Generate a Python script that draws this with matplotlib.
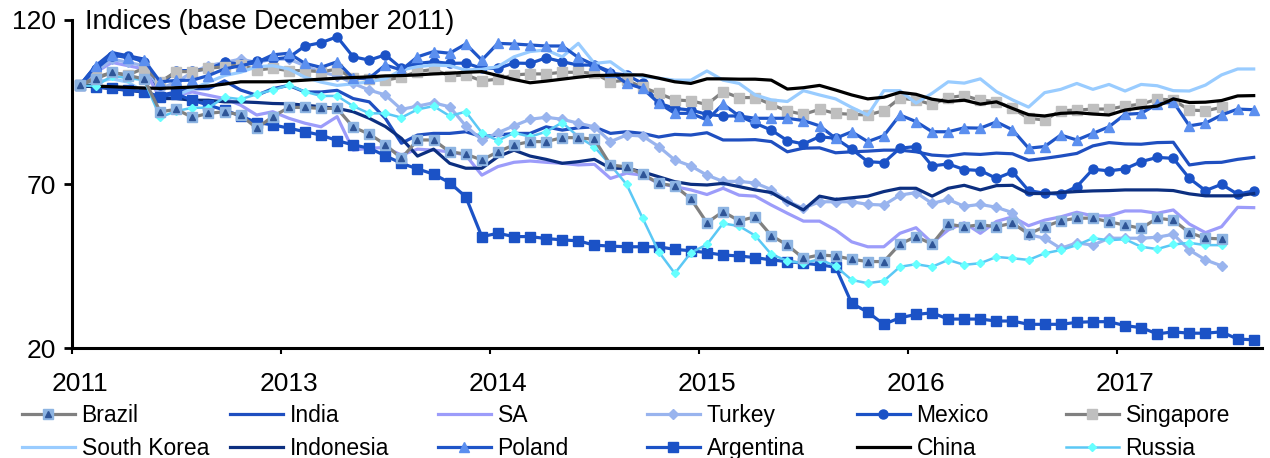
import numpy as np
import matplotlib.pyplot as plt

plt.rcParams['font.family'] = ['Liberation Sans', 'DejaVu Sans']

# monthly points, base Dec 2011 = 100
tick_labels = ['2011', '2013', '2014', '2015', '2016', '2017']

brazil = [100, 102, 104, 103, 102, 92.0, 92.7, 90.3, 91.5, 92.0, 91.0, 87.0, 90.5, 93.3, 93.3, 93.0,
          93.0, 87.3, 85.2, 82.0, 77.8, 83.4, 83.4, 79.8, 79.1, 77.3, 79.8, 81.9, 82.9, 82.9, 84.1, 84.1,
          83.6, 75.8, 75.2, 73.0, 70.2, 69.4, 65.5, 58.2, 61.6, 58.8, 60.0, 54.3, 51.4, 47.4, 48.4, 48.1,
          47.1, 46.4, 46.4, 51.7, 54.0, 51.7, 57.8, 57.0, 57.6, 57.0, 58.1, 54.8, 57.0, 58.8, 59.6, 59.6,
          58.5, 57.5, 56.5, 59.6, 59.0, 55.2, 53.5, 53.3]
india = [100, 106, 110, 109, 108, 97, 98, 99, 99, 101.4, 98.6, 97, 99, 100, 98, 98,
         98.5, 96, 95, 90, 82.4, 84.9, 85.4, 85.4, 85.9, 84.4, 84.9, 85.4, 85.4, 87.4, 86.4, 87.1,
         87.4, 85.4, 85.9, 85.4, 84.3, 85.1, 84.9, 85.6, 83.4, 83.4, 83.5, 82.9, 79.8, 80.9, 81.0, 79.5,
         79.8, 80.0, 80.3, 80.3, 79.8, 78.8, 78.5, 79.2, 79.0, 79.4, 79.2, 77.2, 77.8, 78.5, 79.3, 81.6,
         82.6, 82.2, 82.1, 82.6, 82.7, 75.8, 76.5, 76.6, 77.5, 78.1]
sa = [100, 104, 107, 106, 105, 96, 97, 98, 97, 96, 94.0, 91.0, 92.0, 90.0, 88.5, 87.4,
      90.5, 80.3, 80.9, 81.1, 78.8, 80.6, 80.3, 79.8, 78.8, 72.7, 75.3, 76.6, 77.0, 76.6, 76.3, 75.8,
      76.0, 71.7, 73.3, 72.7, 70.2, 69.2, 68.2, 66.8, 68.7, 66.6, 66.3, 63.6, 61.1, 58.7, 58.7, 56.0,
      52.4, 50.9, 50.9, 55.0, 56.7, 52.1, 56.0, 58.2, 55.0, 58.6, 60.0, 57.3, 59.0, 60.0, 61.4, 60.3,
      60.3, 61.8, 61.8, 61.1, 62.1, 57.8, 55.2, 57.0, 62.9, 62.8]
turkey = [100, 104, 108, 107, 106, 99, 101, 104, 106, 107, 108, 107, 108, 108, 106, 104,
          103, 100.6, 98.6, 97.1, 92.7, 93.7, 94.7, 93.5, 87.7, 83.4, 85.6, 87.7, 89.7, 90.3, 89.7, 88.5,
          87.4, 82.9, 84.9, 84.6, 81.4, 77.3, 75.5, 72.7, 70.8, 70.8, 70.3, 68.3, 64.8, 62.6, 64.6, 64.6,
          64.6, 63.8, 63.6, 66.6, 67.4, 64.1, 65.3, 63.2, 63.8, 62.9, 61.3, 54.6, 53.5, 50.4, 52.1, 51.4,
          53.5, 53.5, 53.5, 53.8, 54.7, 49.9, 46.9, 45.1]
mexico = [100, 105, 109, 109, 107, 100, 104.5, 104.5, 105, 107, 106.5, 107.5, 108, 108.5, 112, 113,
          114.8, 108.7, 107.7, 109.3, 105.2, 106.7, 107.2, 106.7, 106.8, 105.2, 105.2, 106.8, 106.7, 108.4, 107.2, 106.2,
          106.2, 103.7, 103.2, 100.6, 94.6, 93.0, 92.5, 91.2, 90.7, 90.7, 88.5, 86.4, 83.2, 82.2, 84.4, 83.9,
          80.6, 76.8, 76.5, 80.9, 81.4, 75.5, 76.1, 74.4, 74.1, 71.7, 73.7, 68.0, 67.2, 66.9, 69.2, 74.5,
          74.0, 74.6, 76.8, 78.1, 77.8, 71.7, 68.0, 69.9, 66.9, 67.9]
singapore = [100, 102.5, 103.9, 103.2, 105.2, 101.1, 104.2, 104.2, 105.2, 105.7, 106.2, 104.7, 105.2, 104.5, 104.5, 104.2,
             104.9, 102.2, 102.0, 101.6, 102.5, 104.2, 104.9, 102.9, 103.2, 101.4, 101.9, 103.2, 103.5, 103.5, 104.0, 104.0,
             103.7, 101.1, 101.6, 99.4, 97.6, 95.6, 95.3, 94.2, 98.1, 96.3, 96.3, 94.2, 92.2, 91.2, 92.7, 91.5,
             91.2, 91.0, 92.3, 96.1, 95.6, 94.2, 96.3, 96.9, 95.5, 95.1, 93.0, 90.0, 89.5, 92.3, 92.5, 92.8,
             92.8, 93.7, 94.3, 95.8, 95.6, 92.5, 92.3, 93.3]
south_korea = [100, 101, 102, 101, 98, 95.6, 97, 99, 101, 103, 104, 105.7, 106, 105, 102.5, 101,
               100, 100.5, 101.1, 102.0, 104.7, 105.7, 106.2, 106.0, 104.7, 104.9, 105.7, 108.7, 110.3, 110.8, 108.7, 112.8,
               106.7, 107.2, 103.7, 102.7, 102.2, 101.6, 101.6, 104.4, 101.6, 100.6, 97.1, 95.6, 95.1, 98.4, 97.1, 95.9,
               93.3, 91.0, 98.4, 98.4, 94.6, 97.6, 101.1, 100.7, 102.0, 98.1, 95.6, 93.4, 97.8, 98.8, 100.6, 98.8,
               100.3, 98.3, 100.3, 99.9, 98.4, 98.3, 100.1, 103.2, 105.0, 105.0]
indonesia = [100, 99.5, 99, 98.5, 98, 96, 96, 95.5, 95.5, 95, 95, 94.8, 94.5, 94.4, 94, 93.5,
             93, 92, 90, 87.5, 83.9, 78.5, 80.6, 76.3, 74.8, 74.8, 78.3, 80.3, 78.5, 77.5, 76.3, 76.8,
             77.5, 74.8, 74.8, 73.7, 72.2, 70.7, 69.9, 69.7, 70.2, 69.2, 68.2, 67.4, 64.6, 62.1, 66.3, 65.3,
             65.8, 66.3, 67.7, 68.7, 68.7, 66.3, 68.7, 69.6, 68.2, 69.5, 69.6, 67.1, 67.1, 67.4, 67.7, 67.9,
             68.0, 68.2, 68.2, 68.2, 68.0, 67.0, 66.4, 66.4, 66.4, 67.1]
poland = [100, 106, 109.3, 108.4, 107.7, 101.1, 101.5, 101.6, 103, 105, 106, 107, 109.3, 109.8, 106.7, 105.5,
          107.2, 102.2, 102.2, 106.2, 104.7, 108.7, 110.3, 109.8, 112.6, 107.7, 112.8, 112.6, 112.3, 112.0, 112.0, 108.5,
          106.2, 104.2, 100.6, 99.1, 94.6, 91.5, 91.5, 89.5, 94.3, 90.7, 90.0, 90.0, 90.0, 89.3, 87.7, 83.9,
          85.9, 82.9, 84.7, 91.0, 89.0, 85.9, 85.9, 87.1, 87.0, 88.9, 86.5, 80.9, 81.4, 84.9, 83.4, 85.4,
          87.4, 91.2, 91.5, 94.3, 95.0, 87.7, 88.5, 91.0, 92.8, 92.6]
argentina = [100, 99.6, 99.1, 98.6, 98.1, 96.6, 97.4, 95.5, 94, 92.5, 90.7, 88.7, 88.0, 87.0, 85.9, 84.9,
             83.2, 81.9, 80.9, 78.6, 76.3, 74.6, 73.0, 70.4, 66.1, 54.0, 55.0, 54.0, 54.0, 53.4, 53.0, 52.7,
             51.4, 51.1, 50.9, 50.9, 50.9, 50.1, 49.7, 49.1, 48.4, 48.1, 47.6, 46.9, 46.4, 45.9, 45.4, 44.7,
             33.7, 31.0, 27.3, 29.3, 30.3, 30.8, 28.9, 28.9, 28.9, 28.3, 28.3, 27.3, 27.3, 27.3, 27.9, 28.1,
             28.1, 26.9, 26.3, 24.4, 25.0, 24.6, 24.6, 25.0, 22.8, 22.6]
china = [100, 99.8, 99.6, 99.4, 99.2, 99.1, 99.3, 99.5, 99.8, 100.4, 101.1, 101.1, 101.1, 101.3, 101.6, 101.9,
         102.2, 102.4, 102.6, 102.9, 103.0, 103.2, 103.5, 103.7, 104.0, 104.2, 103.0, 101.8, 100.8, 101.3, 101.9, 102.5,
         103.0, 103.1, 103.2, 103.2, 102.2, 101.1, 100.6, 102.0, 102.0, 101.9, 101.9, 101.6, 98.9, 99.3, 100.0, 98.6,
         97.1, 95.9, 96.4, 97.9, 97.3, 95.8, 95.1, 95.5, 94.3, 95.0, 93.0, 91.1, 90.7, 91.5, 91.7, 91.3,
         91.0, 92.5, 93.2, 93.7, 95.9, 94.8, 94.9, 95.4, 96.8, 96.9]
russia = [100, 99.8, 102.9, 102.2, 101.6, 90.3, 92.2, 93.2, 93.2, 96.4, 95.8, 97.3, 98.6, 100.1, 98.1, 96.8,
          96.8, 93.7, 91.5, 91.5, 90.2, 92.7, 93.7, 90.7, 92.0, 85.6, 83.2, 85.6, 84.4, 85.9, 88.7, 84.4,
          81.3, 75.8, 69.9, 59.6, 49.4, 42.8, 49.1, 51.6, 58.0, 57.2, 54.3, 48.6, 46.6, 45.9, 47.1, 45.0,
          40.8, 39.8, 40.5, 44.8, 45.6, 44.8, 46.9, 45.4, 45.9, 47.8, 47.4, 46.9, 48.9, 49.9, 51.4, 53.5,
          52.9, 53.2, 50.9, 50.2, 51.6, 52.1, 51.4, 51.4]

fig = plt.figure(figsize=(12.7, 4.58), dpi=100)
ax = fig.add_axes([0.0565, 0.2395, 0.937, 0.7175])

lw = 2.3
def idx(vals):
    return np.arange(len(vals))

h = {}
h['Brazil'] = ax.plot(idx(brazil), brazil, color='#808080', lw=lw, marker='s', ms=7,
                      mfc='#8DB4E2', mec='#8DB4E2', zorder=3)[0]
tri = ax.plot(idx(brazil), brazil, ls='none', marker='^', ms=4.5, mfc='#2F5597', mec='#2F5597', zorder=4)[0]
h['India'] = ax.plot(idx(india), india, color='#1F4FC0', lw=lw)[0]
h['SA'] = ax.plot(idx(sa), sa, color='#9C9CFA', lw=lw)[0]
h['Turkey'] = ax.plot(idx(turkey), turkey, color='#99B4EE', lw=lw, marker='D', ms=5,
                      mfc='#99B4EE', mec='#99B4EE')[0]
h['Mexico'] = ax.plot(idx(mexico), mexico, color='#1B52C6', lw=lw, marker='o', ms=6.5,
                      mfc='#1B52C6', mec='#1B52C6')[0]
h['Singapore'] = ax.plot(idx(singapore), singapore, color='#808080', lw=lw, marker='s', ms=7,
                         mfc='#BFBFBF', mec='#BFBFBF')[0]
h['South Korea'] = ax.plot(idx(south_korea), south_korea, color='#99CCFF', lw=lw)[0]
h['Indonesia'] = ax.plot(idx(indonesia), indonesia, color='#0C2F80', lw=lw)[0]
h['Poland'] = ax.plot(idx(poland), poland, color='#1F55C8', lw=lw, marker='^', ms=7,
                      mfc='#5B8FEF', mec='#5B8FEF')[0]
h['Argentina'] = ax.plot(idx(argentina), argentina, color='#1B52C6', lw=lw, marker='s', ms=6.5,
                         mfc='#1B52C6', mec='#1B52C6')[0]
h['China'] = ax.plot(idx(china), china, color='black', lw=lw)[0]
h['Russia'] = ax.plot(idx(russia), russia, color='#5BC8F5', lw=1.8, marker='D', ms=4.5,
                      mfc='#66FFFF', mec='#66FFFF')[0]

ax.set_xlim(-0.5, 73.5)
ax.set_ylim(20, 120)
for s in ['top', 'right']:
    ax.spines[s].set_visible(False)
for s in ['left', 'bottom']:
    ax.spines[s].set_linewidth(2.2)

ax.set_yticks([20, 70, 120])
ax.tick_params(axis='y', direction='out', length=6, width=2, labelsize=19, pad=5)
ax.set_xticks(np.arange(-0.5, 74, 13))
ax.set_xticklabels([])
ax.tick_params(axis='x', which='major', direction='out', length=4, width=1.5)
ax.set_xticks(np.arange(0, 74, 13), minor=True)
ax.set_xticklabels(tick_labels, minor=True)
ax.tick_params(axis='x', which='minor', length=0, labelsize=19, pad=17)

fig.text(85 / 1270, 1 - 22 / 458, 'Indices (base December 2011)', fontsize=19.5, va='center', ha='left')

# legend: 6 evenly spaced columns, two rows
cols = [('Brazil', 'South Korea'), ('India', 'Indonesia'), ('SA', 'Poland'),
        ('Turkey', 'Argentina'), ('Mexico', 'China'), ('Singapore', 'Russia')]
col_x = [22, 230, 438, 647, 857, 1066]
for (a, b), x0 in zip(cols, col_x):
    ha = (h[a], tri) if a == 'Brazil' else h[a]
    leg = fig.legend([ha, h[b]], [a, b], loc='upper left', bbox_to_anchor=(x0 / 1270, 1 - 404 / 458),
                     frameon=False, fontsize=16.5, borderpad=0, borderaxespad=0, handlelength=2.3,
                     handletextpad=0.3, labelspacing=0.42)

fig.savefig('out.png', dpi=100)
